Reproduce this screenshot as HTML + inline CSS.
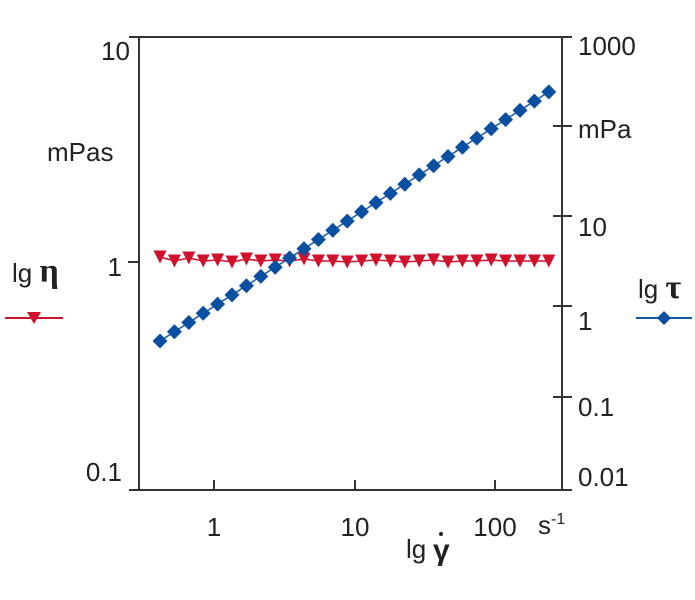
<!DOCTYPE html>
<html><head><meta charset="utf-8"><style>
html,body{margin:0;padding:0;background:#fff}
svg{display:block}
text{font-family:"Liberation Sans",sans-serif;fill:#222}
</style></head><body>
<svg width="695" height="600" viewBox="0 0 695 600" xmlns="http://www.w3.org/2000/svg">
<defs>
<polygon id="t" points="-6.5,-6.5 6.5,-6.5 0,6.5" fill="#d0112b"/>
<polygon id="d" points="0,-7.5 7.5,0 0,7.5 -7.5,0" fill="#0a4fa0"/>
</defs>
<g stroke="#333" stroke-width="2" fill="none">
<line x1="129" y1="37" x2="572" y2="37"/>
<line x1="129" y1="490" x2="572" y2="490"/>
<line x1="139" y1="37" x2="139" y2="490"/>
<line x1="562" y1="37" x2="562" y2="490"/>
<line x1="128" y1="262" x2="139" y2="262"/>
<line x1="214" y1="480" x2="214" y2="490"/>
<line x1="355" y1="480" x2="355" y2="490"/>
<line x1="495" y1="480" x2="495" y2="490"/>
<line x1="553" y1="126" x2="572" y2="126"/>
<line x1="553" y1="216" x2="572" y2="216"/>
<line x1="553" y1="306" x2="572" y2="306"/>
<line x1="553" y1="397" x2="572" y2="397"/>
</g>
<g font-size="26">
<text x="130" y="60" text-anchor="end">10</text>
<text x="47" y="161">mPas</text>
<text x="122" y="276" text-anchor="end">1</text>
<text x="122" y="481" text-anchor="end">0.1</text>
<text x="578" y="55">1000</text>
<text x="578" y="138">mPa</text>
<text x="578" y="236">10</text>
<text x="578" y="330">1</text>
<text x="578" y="416">0.1</text>
<text x="578" y="486">0.01</text>
<text x="214" y="536" text-anchor="middle">1</text>
<text x="355" y="536" text-anchor="middle">10</text>
<text x="495" y="536" text-anchor="middle">100</text>
<text x="538" y="534">s<tspan font-size="16" dy="-10">-1</tspan></text>
<text x="406" y="558">lg</text>
<text x="433" y="560" font-family="Liberation Serif,serif" font-weight="bold" font-size="30">γ</text>
<circle cx="441" cy="534" r="2" fill="#222"/>
<text x="12" y="282">lg <tspan font-family="Liberation Serif,serif" font-size="34" font-weight="bold">η</tspan></text>
<text x="638" y="298">lg <tspan font-family="Liberation Serif,serif" font-size="34" font-weight="bold">τ</tspan></text>
</g>
<line x1="5" y1="318" x2="63" y2="318" stroke="#d0112b" stroke-width="2"/>
<polygon points="27,312 41,312 34,324" fill="#d0112b"/>
<line x1="636" y1="318" x2="692" y2="318" stroke="#1558a8" stroke-width="2"/>
<polygon points="664,311 671,318 664,325 657,318" fill="#0a4fa0"/>

<polyline fill="none" stroke="#d0112b" stroke-width="1.5" points="160,257 174.4,261 188.8,258 203.2,261 217.6,260 232,262 246.4,259 260.8,261 275.2,260 289.6,261 304,259 318.4,261 332.8,261 347.2,262 361.6,261 376,260 390.4,261 404.8,262 419.2,261 433.6,260 448,262 462.4,261 476.8,261 491.2,260 505.6,261 520,261 534.4,261 548.8,261"/>
<use href="#t" x="160" y="257"/><use href="#t" x="174.4" y="261"/><use href="#t" x="188.8" y="258"/><use href="#t" x="203.2" y="261"/><use href="#t" x="217.6" y="260"/><use href="#t" x="232" y="262"/><use href="#t" x="246.4" y="259"/><use href="#t" x="260.8" y="261"/><use href="#t" x="275.2" y="260"/><use href="#t" x="289.6" y="261"/><use href="#t" x="304" y="259"/><use href="#t" x="318.4" y="261"/><use href="#t" x="332.8" y="261"/><use href="#t" x="347.2" y="262"/><use href="#t" x="361.6" y="261"/><use href="#t" x="376" y="260"/><use href="#t" x="390.4" y="261"/><use href="#t" x="404.8" y="262"/><use href="#t" x="419.2" y="261"/><use href="#t" x="433.6" y="260"/><use href="#t" x="448" y="262"/><use href="#t" x="462.4" y="261"/><use href="#t" x="476.8" y="261"/><use href="#t" x="491.2" y="260"/><use href="#t" x="505.6" y="261"/><use href="#t" x="520" y="261"/><use href="#t" x="534.4" y="261"/><use href="#t" x="548.8" y="261"/>

<polyline fill="none" stroke="#1558a8" stroke-width="1.5" points="160,341 548.8,91.9"/>
<use href="#d" x="160" y="341"/><use href="#d" x="174.4" y="331.8"/><use href="#d" x="188.8" y="322.5"/><use href="#d" x="203.2" y="313.3"/><use href="#d" x="217.6" y="304.1"/><use href="#d" x="232" y="294.9"/><use href="#d" x="246.4" y="285.7"/><use href="#d" x="260.8" y="276.4"/><use href="#d" x="275.2" y="267.2"/><use href="#d" x="289.6" y="258"/><use href="#d" x="304" y="248.7"/><use href="#d" x="318.4" y="239.5"/><use href="#d" x="332.8" y="230.3"/><use href="#d" x="347.2" y="221.1"/><use href="#d" x="361.6" y="211.8"/><use href="#d" x="376" y="202.6"/><use href="#d" x="390.4" y="193.4"/><use href="#d" x="404.8" y="184.2"/><use href="#d" x="419.2" y="174.9"/><use href="#d" x="433.6" y="165.7"/><use href="#d" x="448" y="156.5"/><use href="#d" x="462.4" y="147.3"/><use href="#d" x="476.8" y="138.1"/><use href="#d" x="491.2" y="128.8"/><use href="#d" x="505.6" y="119.6"/><use href="#d" x="520" y="110.4"/><use href="#d" x="534.4" y="101.1"/><use href="#d" x="548.8" y="91.9"/>
</svg>
</body></html>
